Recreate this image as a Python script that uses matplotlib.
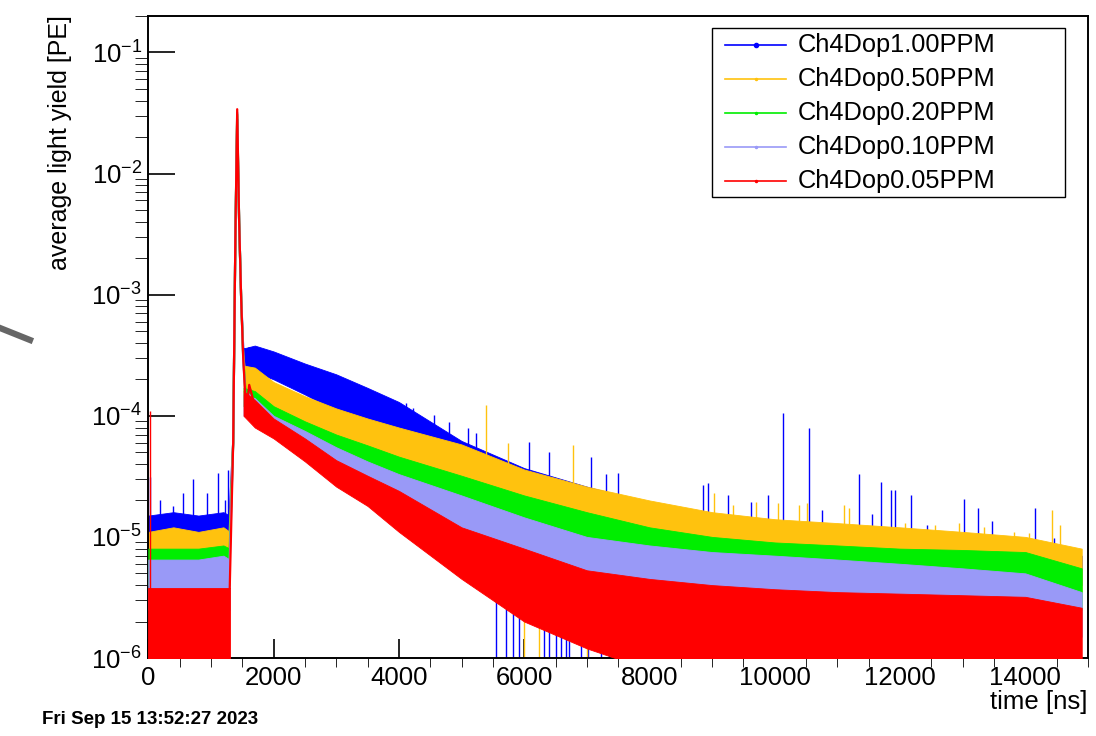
import numpy as np
import matplotlib.pyplot as plt
from matplotlib.lines import Line2D
from matplotlib.patches import Rectangle
from matplotlib.ticker import MultipleLocator, LogLocator

plt.rcParams['font.family'] = ['Liberation Sans', 'DejaVu Sans']
plt.rcParams['mathtext.fontset'] = 'custom'
plt.rcParams['mathtext.rm'] = 'Liberation Sans'

W, H = 1096, 736

labels = ['Ch4Dop1.00PPM', 'Ch4Dop0.50PPM', 'Ch4Dop0.20PPM', 'Ch4Dop0.10PPM', 'Ch4Dop0.05PPM']
colors = ['#0000ff', '#ffc20e', '#00ee00', '#9999f7', '#ff0000']

# baseline before the trigger (band)
t_pre = [0, 400, 800, 1200, 1300]
pre_lo = [[7e-6] * 5, [5e-6] * 5, [4e-6] * 5, [2.5e-6] * 5, [8e-7] * 5]
pre_hi = [[1.5e-5, 1.6e-5, 1.5e-5, 1.6e-5, 1.5e-5],
          [1.1e-5, 1.2e-5, 1.1e-5, 1.2e-5, 1.1e-5],
          [8e-6, 8e-6, 8e-6, 8.5e-6, 8e-6],
          [6.5e-6, 6.5e-6, 6.5e-6, 7e-6, 6.5e-6],
          [3.8e-6, 3.8e-6, 3.8e-6, 3.8e-6, 3.8e-6]]

# prompt peak
t_peak = [1300, 1355, 1390, 1419, 1450, 1483, 1515, 1563, 1611, 1700]
peak = [[1.5e-5, 6e-5, 3e-3, 2.8e-2, 4e-3, 9e-4, 3.6e-4, 3.4e-4, 3.6e-4, 3.5e-4],
        [1.1e-5, 6e-5, 3e-3, 3.0e-2, 4e-3, 9e-4, 3.2e-4, 1.8e-4, 2.2e-4, 2e-4],
        [8e-6, 6e-5, 3e-3, 3.1e-2, 4e-3, 9e-4, 3e-4, 1.3e-4, 1.7e-4, 1.4e-4],
        [6.5e-6, 6e-5, 3e-3, 3.2e-2, 4e-3, 9e-4, 3e-4, 1.1e-4, 1.5e-4, 1.2e-4],
        [3.8e-6, 6e-5, 3e-3, 3.4e-2, 4e-3, 9e-4, 3e-4, 1.05e-4, 1.8e-4, 1.2e-4]]

# slow tail (lower / upper edge of each noisy trace)
t_post = [1520, 1700, 2000, 2500, 3000, 3500, 4000, 5000, 6000, 7000, 8000,
          9000, 10000, 11000, 12000, 13000, 14000, 14900]
post_lo = [[2.2e-4, 2.3e-4, 2.0e-4, 1.5e-4, 1.1e-4, 8.5e-5, 6.5e-5, 4.2e-5, 2.6e-5, 1.8e-5, 1.2e-5,
            9e-6, 8e-6, 7e-6, 6.5e-6, 6e-6, 5e-6, 4e-6],
           [1.6e-4, 1.5e-4, 1.15e-4, 8.5e-5, 6.5e-5, 5.2e-5, 4.3e-5, 3.2e-5, 1.8e-5, 1.2e-5, 9e-6,
            7.5e-6, 6.5e-6, 6e-6, 5.5e-6, 5e-6, 4.2e-6, 3.5e-6],
           [1.2e-4, 1.1e-4, 9e-5, 7e-5, 5e-5, 4e-5, 3.2e-5, 2.1e-5, 1.3e-5, 9e-6, 7e-6,
            5.8e-6, 5e-6, 4.5e-6, 4.2e-6, 3.8e-6, 3.4e-6, 2.5e-6],
           [1.0e-4, 9e-5, 7.5e-5, 5.5e-5, 3.8e-5, 2.8e-5, 2e-5, 1.15e-5, 6.5e-6, 4.2e-6, 3.2e-6,
            2.8e-6, 2.6e-6, 2.5e-6, 2.4e-6, 2.2e-6, 2e-6, 1.5e-6],
           [1.0e-4, 8e-5, 6.5e-5, 4.2e-5, 2.6e-5, 1.8e-5, 1.1e-5, 4.5e-6, 2e-6, 1.2e-6, 8e-7,
            8e-7, 8e-7, 8e-7, 8e-7, 8e-7, 8e-7, 8e-7]]
post_hi = [[3.6e-4, 3.8e-4, 3.4e-4, 2.7e-4, 2.2e-4, 1.7e-4, 1.3e-4, 6.2e-5, 3.7e-5, 2.6e-5, 1.9e-5,
            1.5e-5, 1.3e-5, 1.2e-5, 1.1e-5, 1.0e-5, 9e-6, 7e-6],
           [2.6e-4, 2.5e-4, 1.9e-4, 1.45e-4, 1.15e-4, 9.5e-5, 8e-5, 5.8e-5, 3.6e-5, 2.6e-5, 2e-5,
            1.6e-5, 1.4e-5, 1.3e-5, 1.2e-5, 1.1e-5, 1.0e-5, 8e-6],
           [1.7e-4, 1.6e-4, 1.2e-4, 9e-5, 7e-5, 5.7e-5, 4.6e-5, 3.2e-5, 2.2e-5, 1.6e-5, 1.2e-5,
            1.0e-5, 9e-6, 8.5e-6, 8e-6, 7.8e-6, 7.5e-6, 5.5e-6],
           [1.5e-4, 1.4e-4, 1e-4, 7.5e-5, 5.5e-5, 4.2e-5, 3.3e-5, 2.2e-5, 1.45e-5, 1e-5, 8.5e-6,
            7.5e-6, 7e-6, 6.5e-6, 6e-6, 5.5e-6, 5e-6, 3.5e-6],
           [1.6e-4, 1.35e-4, 9.5e-5, 6.5e-5, 4.3e-5, 3.2e-5, 2.4e-5, 1.2e-5, 8e-6, 5.3e-6, 4.5e-6,
            4e-6, 3.7e-6, 3.5e-6, 3.4e-6, 3.3e-6, 3.2e-6, 2.6e-6]]

# single tall bins that stick out of the traces
blue_spike_t = [27, 187, 395, 555, 715, 939, 1115, 1227, 1275,
                4107, 4219, 4555, 4795, 5099, 5227, 6075, 6395, 7067, 7307, 7499,
                8859, 8939, 9259, 9627, 9899, 10139, 10539, 10747, 11339, 11547,
                11691, 11851, 11915, 12171, 12427, 13019, 13243, 13467, 14155, 14459]
blue_spike_v = [3.1e-5, 2.0e-5, 1.8e-5, 2.3e-5, 3.0e-5, 2.3e-5, 3.4e-5, 2.0e-5, 3.6e-5,
                1.28e-4, 1.16e-4, 1.02e-4, 8.9e-5, 8e-5, 7.2e-5, 6.1e-5, 5e-5, 4.6e-5, 3.3e-5, 3.4e-5,
                2.7e-5, 2.8e-5, 2.2e-5, 1.95e-5, 2.2e-5, 1.06e-4, 8e-5, 1.67e-5, 3.3e-5, 1.55e-5,
                2.85e-5, 2.45e-5, 2.45e-5, 2.2e-5, 1.25e-5, 2.06e-5, 1.74e-5, 1.36e-5, 1.74e-5, 9.8e-6]
yellow_spike_t = [5387, 5739, 6779, 9035, 9339, 9707, 10059, 10379, 10507, 11099, 11179,
                  12075, 12555, 12939, 13339, 13819, 14059, 14427, 14555, 14795]
yellow_spike_v = [1.23e-4, 6e-5, 5.7e-5, 2.3e-5, 1.84e-5, 1.95e-5, 1.9e-5, 1.84e-5, 1.9e-5, 1.84e-5,
                  1.74e-5, 1.3e-5, 1.25e-5, 1.3e-5, 1.2e-5, 1.1e-5, 1.08e-5, 1.67e-5, 1.25e-5, 6.8e-6]
red_spike_t = [20]
red_spike_v = [1.1e-4]

# bins that drop to the bottom of the frame
blue_drop_t = [5547, 5707, 5819, 5915, 6315, 6395, 6507, 6587, 6667, 6715, 6907, 7019,
               7227, 7355, 7550, 7700, 7850]
yellow_drop_t = [6000, 6235, 7000, 7400, 7750, 8100, 8400]

fig = plt.figure(figsize=(W / 100, H / 100), dpi=100)
ax = fig.add_axes([148.3 / W, 1 - 658 / H, (1088 - 148.3) / W, (658 - 16) / H])
ax.set_yscale('log')
ax.set_xlim(0, 15000)
ax.set_ylim(1e-6, 0.2)

spikes = {0: (blue_spike_t, blue_spike_v), 1: (yellow_spike_t, yellow_spike_v), 4: (red_spike_t, red_spike_v)}
drops = {0: blue_drop_t, 1: yellow_drop_t}

for i in range(5):
    c = colors[i]
    if i in drops:
        ax.vlines(drops[i], 8e-7, 4e-6, color=c, lw=1.0, zorder=1 + i)
    ax.fill_between(t_pre, pre_lo[i], pre_hi[i], color=c, lw=0.6, zorder=1 + i)
    ax.fill_between(t_post, post_lo[i], post_hi[i], color=c, lw=0.6, zorder=1 + i)
    ax.plot(t_peak, peak[i], color=c, lw=1.6, zorder=1 + i)
    if i in spikes:
        st, sv = spikes[i]
        all_t = t_pre + t_post
        all_lo = np.log10(pre_lo[i] + post_lo[i])
        base = 10 ** np.interp(st, all_t, all_lo)
        ax.vlines(st, base, sv, color=c, lw=1.0, zorder=1 + i)

for s in ax.spines.values():
    s.set_linewidth(1.4)
ax.xaxis.set_major_locator(MultipleLocator(2000))
ax.xaxis.set_minor_locator(MultipleLocator(500))
ax.yaxis.set_major_locator(LogLocator(base=10, numticks=10))
ax.yaxis.set_minor_locator(LogLocator(base=10, subs=np.arange(2, 10), numticks=20))
ax.tick_params(direction='in', top=False, right=False, labelsize=18.5, width=1.2)
ax.tick_params(axis='x', which='major', length=13.5, pad=6)
ax.tick_params(axis='x', which='minor', length=6.5)
ax.tick_params(axis='y', which='major', length=19.5, pad=4.5)
ax.tick_params(axis='y', which='minor', length=9.5)
for lab in ax.get_yticklabels() + ax.get_xticklabels():
    lab.set_zorder(20)

fig.text(60 / W, 1 - 15 / H, 'average light yield [PE]', rotation=90, ha='center', va='top', fontsize=18)
fig.text(1088 / W, 1 - 702 / H, 'time [ns]', ha='right', va='center', fontsize=18.5)
fig.text(42 / W, 1 - 720 / H, 'Fri Sep 15 13:52:27 2023', fontweight='bold', fontsize=13.5, va='center')

# legend box drawn the ROOT way
fig.add_artist(Rectangle((712 / W, 1 - 197 / H), 353 / W, 169 / H, transform=fig.transFigure,
                         facecolor='white', edgecolor='black', lw=1.0, zorder=30))
rows = [45, 79, 113, 147, 181]
for i in range(5):
    y = 1 - rows[i] / H
    fig.add_artist(Line2D([725 / W, 786 / W], [y, y], transform=fig.transFigure, color=colors[i],
                          lw=1.2, zorder=31))
    fig.add_artist(Line2D([755.5 / W], [y], transform=fig.transFigure, color=colors[i], marker='o',
                          markersize=3.0 if i == 0 else 1.5, zorder=31))
    fig.text(798 / W, y, labels[i], fontsize=18.3, va='center', ha='left', zorder=32)

# grey stroke at the left edge of the screenshot
fig.add_artist(Line2D([0, 30 / W], [1 - 328 / H, 1 - 340 / H], transform=fig.transFigure,
                      color='#666666', lw=4.5))

fig.savefig('out.png', dpi=100)
